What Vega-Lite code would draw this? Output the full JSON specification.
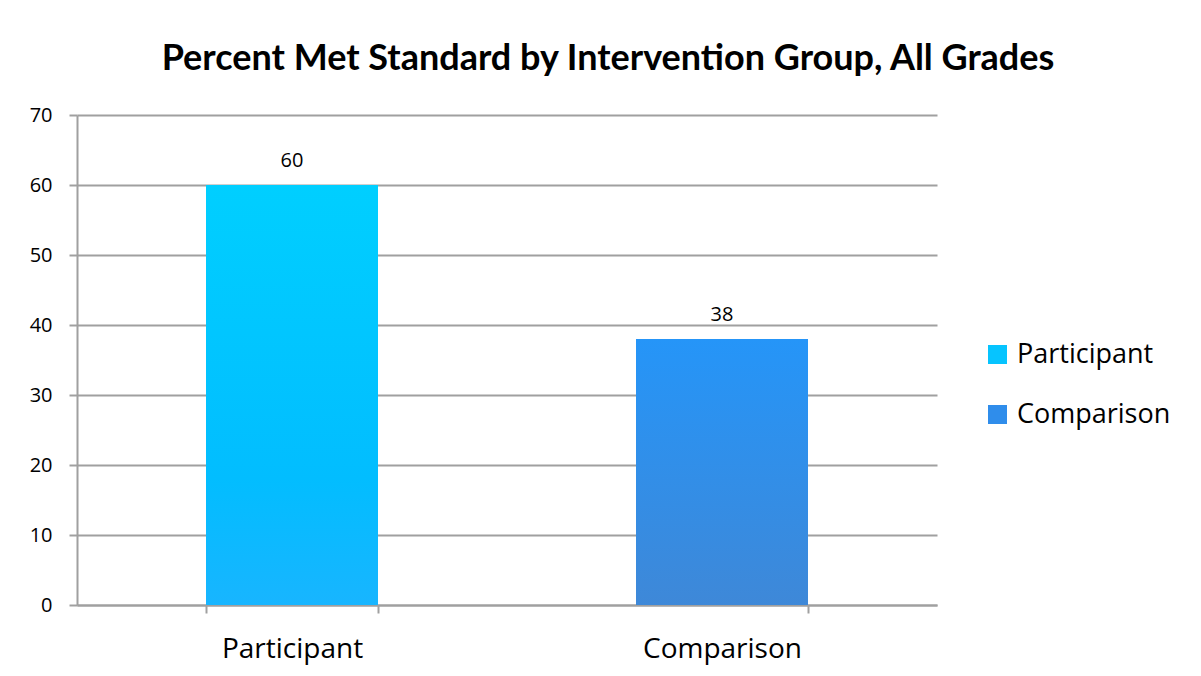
{
  "$schema": "https://vega.github.io/schema/vega-lite/v6.json",
  "autosize": "none",
  "width": 860,
  "height": 490,
  "padding": {"left": 77, "top": 115, "right": 264, "bottom": 71},
  "background": "white",
  "title": {
    "text": "Percent Met Standard by Intervention Group, All Grades",
    "font": "Lato",
    "fontSize": 36,
    "fontWeight": "bold",
    "color": "black",
    "anchor": "middle",
    "frame": "group",
    "dx": 101,
    "offset": 27
  },
  "data": {
    "values": [
      {"group": "Participant", "percent": 60},
      {"group": "Comparison", "percent": 38}
    ]
  },
  "encoding": {
    "x": {
      "field": "group",
      "type": "nominal",
      "sort": ["Participant", "Comparison"],
      "scale": {"paddingInner": 0.6, "paddingOuter": 0.3},
      "axis": {
        "title": null,
        "labelAngle": 0,
        "labelFont": "Open Sans",
        "labelFontSize": 28,
        "labelColor": "black",
        "labelPadding": 22,
        "tickBand": "extent",
        "tickSize": 8,
        "tickColor": "#a0a0a0",
        "tickWidth": 2,
        "domainColor": "#a0a0a0",
        "domainWidth": 2,
        "grid": false
      }
    },
    "y": {
      "field": "percent",
      "type": "quantitative",
      "scale": {"domain": [0, 70]},
      "axis": {
        "title": null,
        "values": [0, 10, 20, 30, 40, 50, 60, 70],
        "labelFont": "Open Sans",
        "labelFontSize": 20,
        "labelColor": "black",
        "labelPadding": 17,
        "tickSize": 8,
        "tickColor": "#a0a0a0",
        "tickWidth": 2,
        "domainColor": "#a0a0a0",
        "domainWidth": 2,
        "gridColor": "#a0a0a0",
        "gridWidth": 2
      }
    }
  },
  "layer": [
    {
      "mark": {"type": "bar"},
      "encoding": {
        "color": {
          "field": "group",
          "type": "nominal",
          "sort": ["Participant", "Comparison"],
          "scale": {"domain": ["Participant", "Comparison"], "range": ["#06C4FF", "#2F8DEB"]},
          "legend": {
            "title": null,
            "orient": "none",
            "legendX": 907,
            "legendY": 226,
            "symbolType": "square",
            "symbolSize": 361,
            "symbolStrokeWidth": 0,
            "labelFont": "Open Sans",
            "labelFontSize": 27,
            "labelColor": "black",
            "labelOffset": 6,
            "rowPadding": 32
          }
        }
      }
    },
    {
      "mark": {"type": "bar"},
      "encoding": {
        "fill": {
          "condition": {
            "test": "datum.group === 'Participant'",
            "value": {"gradient": "linear", "x1": 0, "y1": 0, "x2": 0, "y2": 1, "stops": [{"offset": 0, "color": "#00CFFF"}, {"offset": 0.7, "color": "#02BDFF"}, {"offset": 1, "color": "#18B5FF"}]}
          },
          "value": {"gradient": "linear", "x1": 0, "y1": 0, "x2": 0, "y2": 1, "stops": [{"offset": 0, "color": "#2595F8"}, {"offset": 1, "color": "#3E88D8"}]}
        }
      }
    },
    {
      "mark": {"type": "text", "baseline": "alphabetic", "dy": -18, "font": "Open Sans", "fontSize": 20, "color": "black"},
      "encoding": {"text": {"field": "percent", "type": "quantitative"}}
    }
  ],
  "config": {"view": {"stroke": null}}
}
